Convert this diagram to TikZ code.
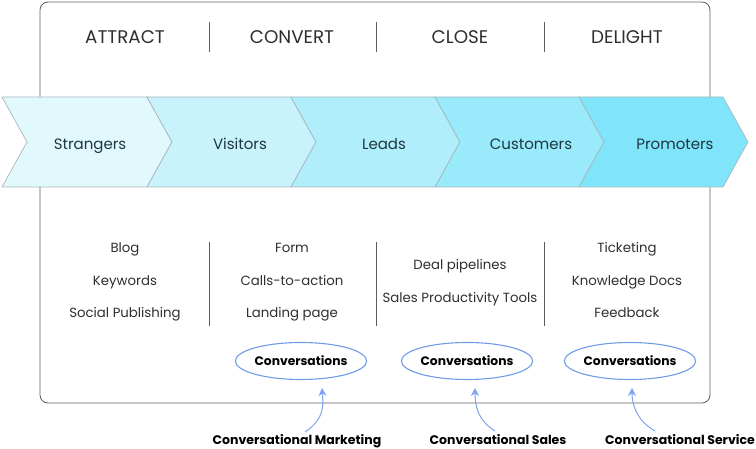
\documentclass[tikz,border=0pt]{standalone}
\usepackage{fontspec}
\setmainfont{Poppins}
\usetikzlibrary{shapes.geometric,arrows.meta}
\definecolor{boxline}{HTML}{5A5F62}
\definecolor{chevline}{HTML}{A9B7BC}
\definecolor{cA}{HTML}{E1F8FD}
\definecolor{cB}{HTML}{C9F3FC}
\definecolor{cC}{HTML}{B1EEFB}
\definecolor{cD}{HTML}{99EAFB}
\definecolor{cE}{HTML}{80E5FB}
\definecolor{txt}{HTML}{2B2F31}
\definecolor{chevtxt}{HTML}{1D3640}
\definecolor{ellblue}{HTML}{6E9CE6}
\definecolor{arrblue}{HTML}{7EA3F0}
\tikzset{
  header/.style={font=\fontsize{18.3}{21}\selectfont, text=txt, inner sep=0pt, text height=12.8pt, text depth=0pt},
  chevlabel/.style={font=\fontsize{15}{18}\selectfont, text=chevtxt, inner sep=0pt, text height=10.5pt, text depth=0pt},
  item/.style={font=\fontsize{13.3}{16}\selectfont, text=txt, inner sep=0pt, text height=9.3pt, text depth=0pt},
  sep/.style={draw=boxline, line width=0.8pt},
  conv/.style={ellipse, draw=ellblue, line width=1.1pt, minimum width=131pt, minimum height=37pt, inner sep=0pt, font=\fontsize{12.3}{14}\selectfont\bfseries, text=black, text height=8.6pt, text depth=0pt},
  convlabel/.style={font=\fontsize{12.5}{15}\selectfont\bfseries, text=black, inner sep=0pt, text height=8.75pt, text depth=0pt},
  convarrow/.style={draw=arrblue, line width=1pt, -{Stealth[length=8pt,width=8pt]}},
  chev/.style={draw=chevline, line width=0.7pt}
}
\begin{document}
\begin{tikzpicture}[x=1pt,y=-1pt]
\useasboundingbox (0,0) rectangle (756,449);
% outer box
\draw[draw=boxline, line width=0.8pt, rounded corners=8pt] (40,2) rectangle (710,403);
% headers
\node[header] (hA) at (125,37) {ATTRACT};
\node[header] (hB) at (292,37) {CONVERT};
\node[header] (hC) at (460,37) {CLOSE};
\node[header] (hD) at (627,37) {DELIGHT};
\draw[sep] (209,22) -- (209,52);
\draw[sep] (376,22) -- (376,52);
\draw[sep] (544,22) -- (544,52);
% chevrons
\foreach \xl/\xr/\c in {2/147/cA, 147/291/cB, 291/435/cC, 435/579/cD, 579/723/cE}{
  \filldraw[chev, fill=\c] (\xl,97) -- (\xr,97) -- (\xr+25,142) -- (\xr,187) -- (\xl,187) -- (\xl+25,142) -- cycle;
}
\node[chevlabel] (s1) at (90,144) {Strangers};
\node[chevlabel] (s2) at (240,144) {Visitors};
\node[chevlabel] (s3) at (384,144) {Leads};
\node[chevlabel] (s4) at (531,144) {Customers};
\node[chevlabel] (s5) at (675,144) {Promoters};
% lists
\node[item] (a1) at (125,248) {Blog};
\node[item] (a2) at (125,281) {Keywords};
\node[item] (a3) at (125,313) {Social Publishing};
\node[item] (b1) at (292,248) {Form};
\node[item] (b2) at (292,281) {Calls-to-action};
\node[item] (b3) at (292,313) {Landing page};
\node[item] (c1) at (460,265) {Deal pipelines};
\node[item] (c2) at (460,298) {Sales Productivity Tools};
\node[item] (d1) at (627,248) {Ticketing};
\node[item] (d2) at (627,281) {Knowledge Docs};
\node[item] (d3) at (627,313) {Feedback};
\draw[sep] (209,242) -- (209,326);
\draw[sep] (376,242) -- (376,326);
\draw[sep] (544,242) -- (544,326);
% conversations
\node[conv] (e1) at (301,361) {Conversations};
\node[conv] (e2) at (467,361) {Conversations};
\node[conv] (e3) at (630,361) {Conversations};
\node[convlabel] (l1) at (297,440) {Conversational Marketing};
\node[convlabel] (l2) at (498,440) {Conversational Sales};
\node[convlabel] (l3) at (680,440) {Conversational Service};
\coordinate (t1) at (322,388);
\coordinate (t2) at (475,388);
\coordinate (t3) at (632,388);
\coordinate (f1) at (305,432);
\coordinate (f2) at (495,431);
\coordinate (f3) at (655,431);
\draw[convarrow] (f1) .. controls (326,418) and (323,403) .. (t1);
\draw[convarrow] (f2) .. controls (477,420) and (475,404) .. (t2);
\draw[convarrow] (f3) .. controls (636,420) and (632,404) .. (t3);
\end{tikzpicture}
\end{document}
